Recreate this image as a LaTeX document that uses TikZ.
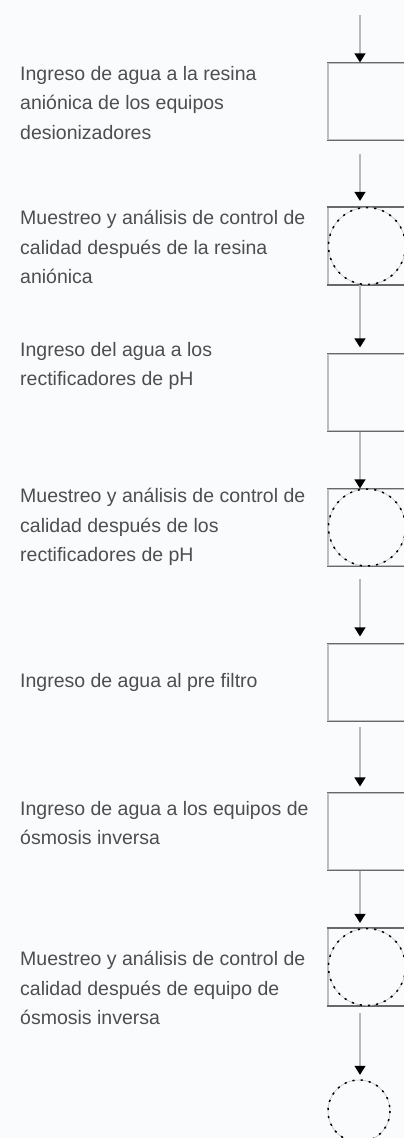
\documentclass[tikz,border=0pt]{standalone}
\usepackage{fontspec}
\setmainfont{Liberation Sans}
\usetikzlibrary{arrows.meta,calc}
\definecolor{bg}{RGB}{250,251,253}
\definecolor{txt}{RGB}{78,78,78}
\definecolor{sideedge}{RGB}{190,190,190}
\definecolor{capedge}{RGB}{105,105,105}
\definecolor{flow}{RGB}{185,185,185}
\begin{document}
\begin{tikzpicture}[x=1pt,y=-1pt,
  stepbox/.style={minimum width=78pt,minimum height=77pt,inner sep=0pt,
    draw=sideedge,line width=1.2pt},
  capline/.style={draw=capedge,line width=1.4pt},
  ringline/.style={draw=black,line width=1.5pt,dash pattern=on 2.2pt off 6pt},
  ringbase/.style={draw=sideedge,line width=0.6pt},
  flowline/.style={draw=flow,line width=1.2pt,
    -{Triangle[width=11pt,length=9pt,fill=black,color=black]}},
  caption/.style={anchor=west,align=left,text=txt,inner sep=0pt,
    font=\fontsize{19.5}{29.5}\selectfont}]
\useasboundingbox (0,0) rectangle (404,1138);
\fill[bg] (0,0) rectangle (404,1138);
\clip (0,0) rectangle (404,1138);

% process boxes
\node[stepbox] (b1) at (367,101.5) {};
\node[stepbox] (b2) at (367,246) {};
\node[stepbox] (b3) at (367,392.5) {};
\node[stepbox] (b4) at (367,527.5) {};
\node[stepbox] (b5) at (367,682.5) {};
\node[stepbox] (b6) at (367,831.5) {};
\node[stepbox] (b7) at (367,967) {};
\node[circle,minimum size=62pt,inner sep=0pt] (end) at (359,1111) {};

% darker top and bottom edges
\foreach \b in {b1,b2,b3,b4,b5,b6,b7}{
  \draw[capline] (\b.north west) -- (\b.north east);
  \draw[capline] (\b.south west) -- (\b.south east);
}

% inspection rings
\foreach \b in {b2,b4,b7}{
  \draw[ringbase] (\b.center) circle[radius=38.5];
  \draw[ringline] (\b.center) circle[radius=38.5];
}
\draw[ringbase] (end.center) circle[radius=31];
\draw[ringline] (end.center) circle[radius=31];

% flow connectors
\coordinate (axis) at (360,0);
\coordinate (in) at (360,15);
\draw[flowline] (in) -- (b1.north -| axis);
\draw[flowline,shorten <=13pt,shorten >=6pt] (b1.south -| axis) -- (b2.north -| axis);
\draw[flowline,shorten >=6pt] (b2.south -| axis) -- (b3.north -| axis);
\draw[flowline] (b3.south -| axis) -- (b4.north -| axis);
\draw[flowline,shorten <=12pt,shorten >=7pt] (b4.south -| axis) -- (b5.north -| axis);
\draw[flowline,shorten <=5pt,shorten >=6pt] (b5.south -| axis) -- (b6.north -| axis);
\draw[flowline,shorten >=5pt] (b6.south -| axis) -- (b7.north -| axis);
\draw[flowline,shorten <=7pt,shorten >=5pt] (b7.south -| axis) -- (end.north -| axis);

% step descriptions
\node[caption] (t1) at (20,103) {Ingreso de agua a la resina\\aniónica de los equipos\\desionizadores};
\node[caption] (t2) at (20,247) {Muestreo y análisis de control de\\calidad después de la resina\\aniónica};
\node[caption] (t3) at (20,366) {Ingreso del agua a los\\rectificadores de pH};
\node[caption] (t4) at (20,527) {Muestreo y análisis de control de\\calidad después de los\\rectificadores de pH};
\node[caption] (t5) at (20,682) {Ingreso de agua al pre filtro};
\node[caption] (t6) at (20,823) {Ingreso de agua a los equipos de\\ósmosis inversa};
\node[caption] (t7) at (20,988) {Muestreo y análisis de control de\\calidad después de equipo de\\ósmosis inversa};
\end{tikzpicture}
\end{document}
